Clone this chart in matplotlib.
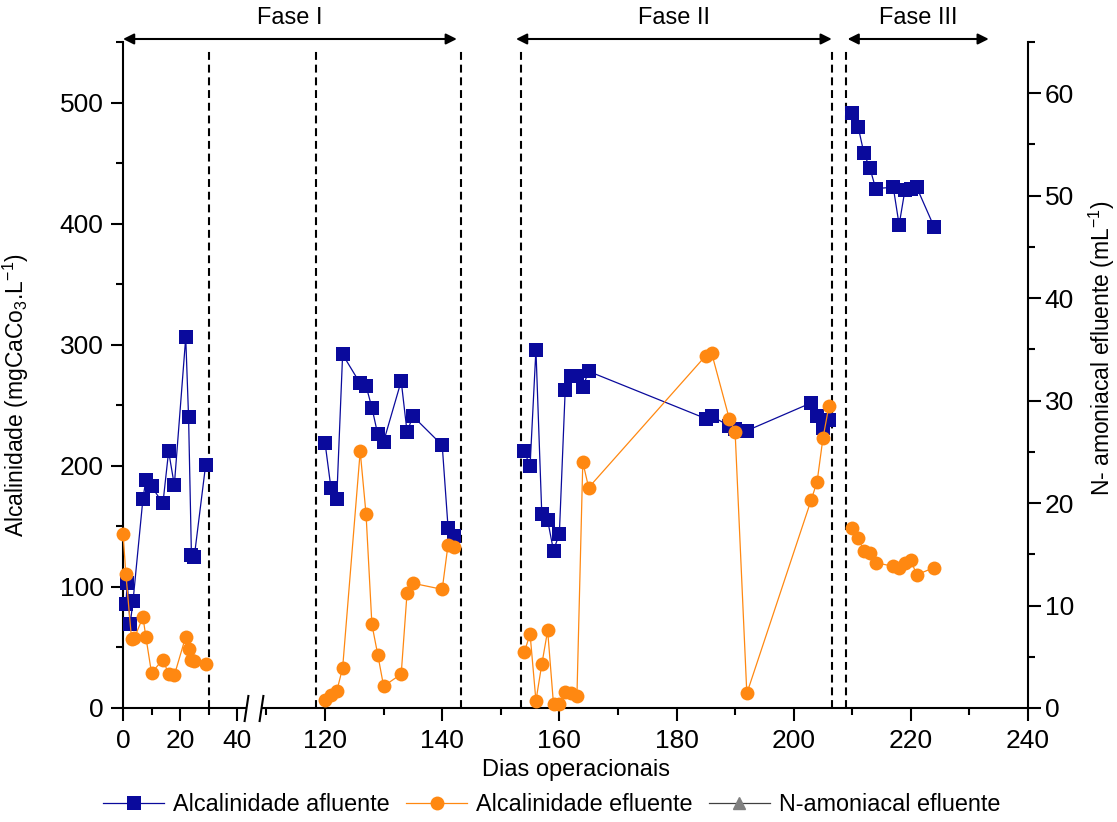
import numpy as np
import matplotlib
matplotlib.use("Agg")
import matplotlib.pyplot as plt
from matplotlib.path import Path
from matplotlib.ticker import FixedLocator, MultipleLocator

plt.rcParams['font.family'] = ['Liberation Sans', 'DejaVu Sans']
plt.rcParams['mathtext.fontset'] = 'custom'
plt.rcParams['mathtext.rm'] = 'Liberation Sans'
plt.rcParams['mathtext.it'] = 'Liberation Sans:italic'
plt.rcParams['mathtext.default'] = 'regular'

# ---------------- data ----------------
# Fase I, first sampling run
dias_af_1 = [1, 1.5, 2.5, 3.5, 7, 8, 10, 14, 16, 18, 22, 23, 24, 25, 29]
alc_af_1 = [86, 103, 69, 88, 173, 188, 183, 169, 212, 184, 306, 240, 126, 125, 201]
dias_ef_1 = [0, 1, 3, 4, 7, 8, 10, 14, 16, 18, 22, 23, 24, 25, 29]
alc_ef_1 = [144, 111, 57, 58, 75, 59, 29, 40, 28, 27, 59, 49, 40, 39, 36]

# Fase I, second sampling run
dias_2 = [120, 121, 122, 123, 126, 127, 128, 129, 130, 133, 134, 135, 140, 141, 142]
alc_af_2 = [219, 182, 173, 292, 268, 266, 248, 226, 220, 270, 228, 241, 217, 149, 142]
alc_ef_2 = [7, 11, 14, 33, 212, 160, 69, 44, 18, 28, 95, 103, 98, 135, 133]

# Fase II
dias_3 = [154, 155, 156, 157, 158, 159, 160, 161, 162, 163, 164, 165,
          185, 186, 189, 190, 192, 203, 204, 205, 206]
alc_af_3 = [212, 200, 296, 160, 155, 130, 144, 263, 274, 274, 265, 278,
            239, 241, 233, 230, 229, 252, 241, 231, 238]
alc_ef_3 = [46, 61, 6, 36, 64, 3, 3, 13, 12, 10, 203, 182,
            291, 293, 239, 228, 12, 172, 187, 223, 249]

# Fase III
dias_4 = [210, 211, 212, 213, 214, 217, 218, 219, 220, 221, 224]
alc_af_4 = [491, 480, 458, 446, 429, 430, 399, 428, 429, 430, 397]
alc_ef_4 = [149, 140, 130, 128, 120, 117, 116, 120, 122, 110, 116]

# N-amoniacal efluente (legend entry only)
n_amon_dias = []
n_amon = []

# phase limits (dashed lines) and phase arrows
limites = [30, 118.5, 143.2, 153.5, 206.5, 209]
fases = ["Fase I", "Fase II", "Fase III"]
fase_ini = [0, 152.6, 209.2]
fase_fim = [142.5, 206.5, 233.3]

# tick marks
xt_major = [0, 20, 40, 120, 140, 160, 180, 200, 220, 240]
xt_minor = [10, 30, 110, 130, 150, 170, 190, 210, 230]

# broken x axis: days 43-109 are squeezed into the break
quebra_dias = [0, 43, 109, 240]
quebra_pos = [0, 122.6, 137.6, 905.0]


def fwd(x):
    return np.interp(x, quebra_dias, quebra_pos)


def inv(u):
    return np.interp(u, quebra_pos, quebra_dias)


azul = '#0A0A9C'
laranja = '#FF8811'
cinza = '#808080'

fig = plt.figure(figsize=(11.17, 8.22), dpi=100)
ax = fig.add_axes([0.11012, 0.13869, 0.81021, 0.81022])
ax.set_xscale('function', functions=(fwd, inv))
ax.set_xlim(0, 240)
ax.set_ylim(0, 550)

ax2 = ax.twinx()
ax2.set_ylim(0, 65)

# series
afl = [(dias_af_1, alc_af_1), (dias_2, alc_af_2), (dias_3, alc_af_3), (dias_4, alc_af_4)]
efl = [(dias_ef_1, alc_ef_1), (dias_2, alc_ef_2), (dias_3, alc_ef_3), (dias_4, alc_ef_4)]
for i, (d, v) in enumerate(afl):
    ax.plot(d, v, color=azul, lw=0.9, marker='s', ms=9.5, mew=0, clip_on=False,
            zorder=4, label='Alcalinidade afluente' if i == 0 else None)
for i, (d, v) in enumerate(efl):
    ax.plot(d, v, color=laranja, lw=0.9, marker='o', ms=10, mew=0, clip_on=False,
            zorder=4, label='Alcalinidade efluente' if i == 0 else None)
ax2.plot(n_amon_dias, n_amon, color='#404040', lw=0.9, marker='^', ms=8,
         mfc=cinza, mec=cinza, label='N-amoniacal efluente')

# phase boundaries
for d in limites:
    ax.axvline(d, ymin=0, ymax=0.99, color='k', lw=1.5, ls=(0, (3.8, 2.3)), zorder=3)

# phase arrows and titles
xt = ax.get_xaxis_transform()
for nome, a, b in zip(fases, fase_ini, fase_fim):
    ax.annotate('', xy=(a, 1.0045), xytext=(b, 1.0045), xycoords=xt, textcoords=xt,
                arrowprops=dict(arrowstyle='<|-|>', color='k', lw=1.5,
                                mutation_scale=16, shrinkA=0, shrinkB=0),
                annotation_clip=False)
    meio = float(inv((fwd(a) + fwd(b)) / 2))
    ax.text(meio, 1.036, nome, transform=xt, ha='center', va='center', fontsize=17)

# spines
for s in ['top', 'right']:
    ax.spines[s].set_visible(False)
for s in ['top', 'left', 'bottom']:
    ax2.spines[s].set_visible(False)
for a in (ax, ax2):
    for s in a.spines.values():
        s.set_linewidth(1.5)

# ticks
ax.xaxis.set_major_locator(FixedLocator(xt_major))
ax.xaxis.set_minor_locator(FixedLocator(xt_minor))
ax.set_xticklabels([str(t) for t in xt_major])
ax.yaxis.set_major_locator(MultipleLocator(100))
ax.yaxis.set_minor_locator(MultipleLocator(50))
ax2.yaxis.set_major_locator(MultipleLocator(10))
ax2.yaxis.set_minor_locator(MultipleLocator(5))
for a in (ax, ax2):
    a.tick_params(which='major', length=9, width=1.5, direction='out', labelsize=19)
    a.tick_params(which='minor', length=5, width=1.5, direction='out')
ax.tick_params(axis='x', pad=6)
ax.tick_params(axis='y', pad=5)
ax2.tick_params(axis='y', pad=3)

# axis break marks
barra = Path([(-0.15, -1), (0.15, 1)], [Path.MOVETO, Path.LINETO])
ax.plot(quebra_dias[1:3], [0, 0], color='white', lw=4, solid_capstyle='butt',
        transform=xt, clip_on=False, zorder=5)
ax.plot(quebra_dias[1:3], [0, 0], ls='none', marker=barra, ms=19.5, mfc='none',
        mec='k', mew=1.5, transform=xt, clip_on=False, zorder=6)

# labels
ax.set_xlabel('Dias operacionais', fontsize=17)
ax.xaxis.set_label_coords(0.5, -0.0766)
ax.set_ylabel('Alcalinidade (mgCaCo$_3$.L$^{-1}$)', fontsize=16.5)
ax.yaxis.set_label_coords(-0.1017, 0.47)
ax2.set_ylabel('N- amoniacal efluente (mL$^{-1}$)', fontsize=16.5)
ax2.yaxis.set_label_coords(1.065, 0.54)

# legend
h1, l1 = ax.get_legend_handles_labels()
h2, l2 = ax2.get_legend_handles_labels()
fig.legend(h1 + h2, l1 + l2, loc='center', bbox_to_anchor=(0.494, 0.0207), ncol=3,
           frameon=False, fontsize=16.8, handlelength=2.6, handletextpad=0.4,
           columnspacing=0.7, borderaxespad=0)

fig.savefig('out.png', dpi=100)
